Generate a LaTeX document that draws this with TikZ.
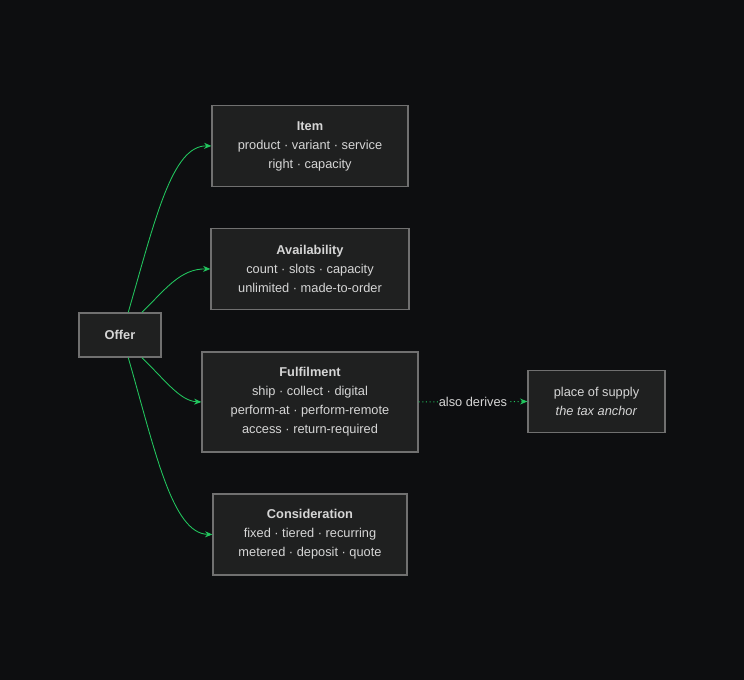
\documentclass[tikz,border=0pt]{standalone}
\usepackage{fontspec}
\setmainfont{Liberation Sans}
\usepackage{tikz}
\usetikzlibrary{arrows.meta, positioning, calc}
\definecolor{bgdark}{RGB}{13,14,16}
\definecolor{boxfill}{RGB}{31,32,32}
\definecolor{boxedge}{RGB}{112,112,112}
\definecolor{txtgray}{RGB}{214,214,214}
\definecolor{linkgreen}{RGB}{34,197,94}
\tikzset{
  basebox/.style={rectangle,draw=boxedge,fill=boxfill,line width=0.9pt,align=center,
    text=txtgray,font=\fontsize{9.6}{14.25}\selectfont,inner sep=0pt},
  offernode/.style={basebox,minimum width=61.5pt,minimum height=33pt,font=\fontsize{9.6}{14.25}\selectfont\bfseries},
  facetnode/.style={basebox,minimum height=60.75pt},
  anchornode/.style={basebox,minimum width=102.75pt,minimum height=46.5pt},
  link/.style={-{Stealth[length=5.5pt,width=4.5pt]},draw=linkgreen,line width=0.65pt},
  derivelink/.style={link,line width=0.75pt,dotted}
}

\begin{document}
\begin{tikzpicture}[x=0.75pt,y=-0.75pt]
  \fill[bgdark] (0,0) rectangle (744,680);
  \useasboundingbox (0,0) rectangle (744,680);

  \node[offernode] (offer) at (120,335) {Offer};
  \node[facetnode,minimum width=147pt] (item) at (310,146)
      {\textbf{Item}\\product · variant · service\\right · capacity};
  \node[facetnode,minimum width=148.5pt] (avail) at (310,269)
      {\textbf{Availability}\\count · slots · capacity\\unlimited · made-to-order};
  \node[facetnode,minimum width=162pt,minimum height=75pt] (fulfil) at (310,402)
      {\textbf{Fulfilment}\\ship · collect · digital\\perform-at · perform-remote\\access · return-required};
  \node[facetnode,minimum width=145.5pt] (consid) at (310,534.5)
      {\textbf{Consideration}\\fixed · tiered · recurring\\metered · deposit · quote};
  \node[anchornode] (supply) at (596.5,401.5)
      {place of supply\\\textit{the tax anchor}};

  \draw[link] (offer.70) .. controls (155,220) and (172,145) .. (item.west);
  \draw[link] (offer.46) .. controls (165,290) and (180,268.5) .. (avail.west);
  \draw[link] (offer.-46) .. controls (165,380) and (180,401) .. (fulfil.west);
  \draw[link] (offer.-70) .. controls (155,450) and (172,533.5) .. (consid.west);
  \draw[derivelink] (fulfil.east) -- (supply.west)
      node[midway,fill=bgdark,text=txtgray,inner sep=1pt,font=\fontsize{9.6}{11}\selectfont]{also derives};
\end{tikzpicture}
\end{document}
